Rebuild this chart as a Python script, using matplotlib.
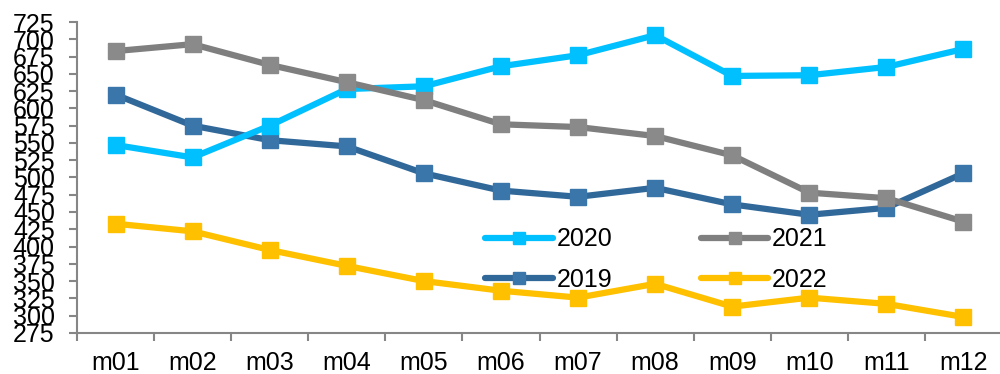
import matplotlib
matplotlib.use("Agg")
import matplotlib.pyplot as plt

# monthly values per year
months = ["m01", "m02", "m03", "m04", "m05", "m06",
          "m07", "m08", "m09", "m10", "m11", "m12"]
v2019 = [620, 575, 554, 545, 506, 481, 472, 485, 461, 446, 456, 506]
v2020 = [547, 529, 575, 628, 632, 661, 677, 706, 647, 648, 660, 686]
v2021 = [683, 693, 663, 638, 612, 577, 573, 560, 532, 478, 470, 436]
v2022 = [433, 422, 395, 372, 350, 336, 326, 346, 313, 326, 317, 298]
yticks = list(range(275, 726, 25))

plt.rcParams['font.family'] = ['Liberation Sans', 'DejaVu Sans']

fig = plt.figure(figsize=(10, 3.74), dpi=100)
ax = fig.add_axes([0.077, 0.110, 0.925, 0.831])

x = list(range(len(months)))
style = dict(linewidth=4.5, marker='s', markersize=11, solid_capstyle='round')
l19, = ax.plot(x, v2019, color='#31689a', markerfacecolor='#3a76aa',
               markeredgecolor='#3a76aa', label='2019', **style)
l20, = ax.plot(x, v2020, color='#00c0ff', markerfacecolor='#00c0ff',
               markeredgecolor='#00c0ff', label='2020', **style)
l21, = ax.plot(x, v2021, color='#7f7f7f', markerfacecolor='#8a8a8a',
               markeredgecolor='#8a8a8a', label='2021', **style)
l22, = ax.plot(x, v2022, color='#ffc000', markerfacecolor='#ffc000',
               markeredgecolor='#ffc000', label='2022', **style)

ax.set_xlim(-0.5, 11.5)
ax.set_ylim(275, 725)
ax.set_yticks(yticks)
ax.set_yticklabels([str(t) for t in yticks], fontsize=18)
ax.set_xticks(x)
ax.set_xticklabels(months, fontsize=18)
ax.set_xticks([i - 0.5 for i in range(len(months) + 1)], minor=True)
ax.tick_params(axis='x', which='major', length=0, pad=13)
ax.tick_params(axis='x', which='minor', length=6, width=1.5, color='#868686')
ax.tick_params(axis='y', length=6, width=1.5, color='#868686', pad=10)

for side in ('top', 'right'):
    ax.spines[side].set_visible(False)
for side in ('left', 'bottom'):
    ax.spines[side].set_color('#868686')
    ax.spines[side].set_linewidth(1.5)

ax.legend(handles=[l20, l19, l21, l22], ncol=2, frameon=False, fontsize=18,
          numpoints=1, markerscale=0.85, loc='upper left',
          bbox_to_anchor=(0.485, 0.392), bbox_transform=fig.transFigure,
          handlelength=2.7, handletextpad=0.15, columnspacing=3.55,
          labelspacing=0.65, borderaxespad=0, borderpad=0)

fig.savefig("out.png", dpi=100)
